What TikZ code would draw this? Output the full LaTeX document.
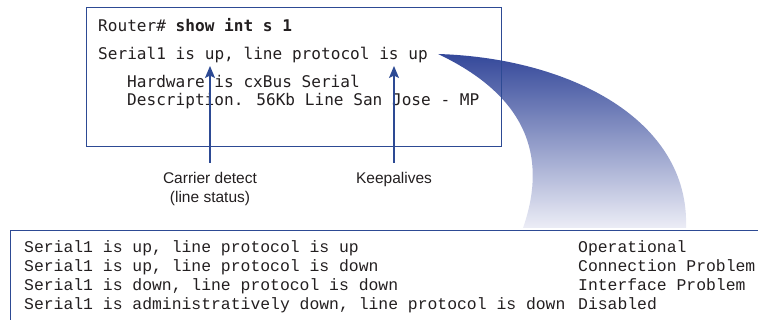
\documentclass[tikz,border=0pt]{standalone}
\usepackage{fontspec}
\setmainfont{Liberation Sans}
\newfontfamily\topmono{DejaVu Sans Mono}
\newfontfamily\botmono{Liberation Mono}
\usetikzlibrary{arrows.meta}
\definecolor{boxblue}{HTML}{2D4A94}
\definecolor{gradtop}{HTML}{34489A}
\definecolor{gradbot}{HTML}{ECEDF6}
\definecolor{txt}{HTML}{231F20}
\tikzset{
  topline/.style={anchor=base west, inner sep=0pt, text=txt,
    font=\topmono\fontsize{16.1}{19}\selectfont},
  botcol/.style={anchor=north west, inner sep=0pt, text=txt, align=left,
    font=\botmono\fontsize{16.4}{19}\selectfont},
  lbl/.style={anchor=north, inner sep=0pt, text=txt, align=center,
    font=\fontsize{15.5}{19}\selectfont},
  frame/.style={draw=boxblue, line width=1pt},
  pointer/.style={draw=boxblue, line width=1.2pt,
    -{Stealth[length=12pt,width=10pt,inset=2.5pt]}},
}
\begin{document}
\begin{tikzpicture}[x=1pt,y=-1pt]
\useasboundingbox (0,0) rectangle (758,320);

% gradient swoosh
\shade[top color=gradtop, bottom color=gradbot]
  (438,54) .. controls (570,58) and (690,120) .. (686,228)
  -- (523,228) .. controls (545,165) and (535,100) .. (438,54) -- cycle;

% top box
\node[frame, anchor=north west, minimum width=415pt, minimum height=139pt,
  inner sep=0pt] (topbox) at (85.5,7.5) {};

\node[topline] (prompt) at (98,31.5) {Router\# \textbf{show int s 1}};
\node[topline] (status) at (98,59.3) {Serial1 is up, line protocol is up};
\node[topline] (hw) at (127,87.7) {Hardware is cxBus Serial};
\node[topline] (desc) at (127,106) {Description. 56Kb Line San Jose - MP};

% labels and pointers
\node[lbl] (cd) at (210,172.5) {Carrier detect\\(line status)};
\node[lbl] (ka) at (394,172.5) {Keepalives};
\coordinate (cdbase) at (210,163);
\coordinate (cdtip) at (210,66);
\coordinate (kabase) at (394,163);
\coordinate (katip) at (394,66);
\draw[pointer] (cdbase) -- (cdtip);
\draw[pointer] (kabase) -- (katip);

% bottom box (open to right and bottom)
\draw[frame] (758,230.5) -- (10.5,230.5) -- (10.5,320);

\node[botcol] (states) at (24,240.5) {Serial1 is up, line protocol is up\\
Serial1 is up, line protocol is down\\
Serial1 is down, line protocol is down\\
Serial1 is administratively down, line protocol is down};
\node[botcol] (meaning) at (578,240.5) {Operational\\
Connection Problem\\
Interface Problem\\
Disabled};
\end{tikzpicture}
\end{document}
